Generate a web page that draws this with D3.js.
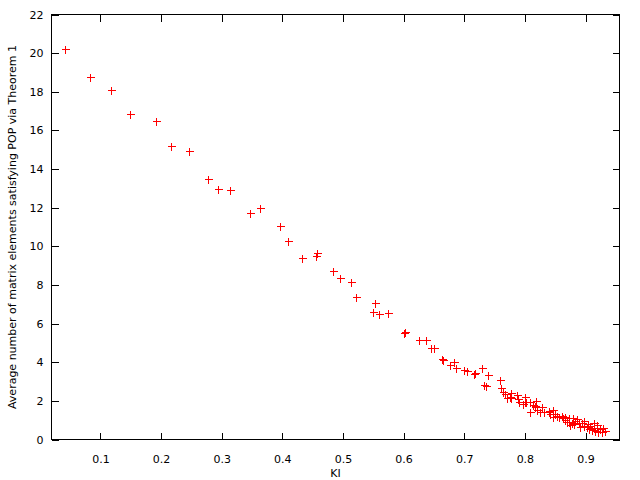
<!DOCTYPE html>
<html>
<head>
<meta charset="utf-8">
<script src="https://cdn.jsdelivr.net/npm/d3@7"></script>
<style>
html,body{margin:0;padding:0;background:#fff;}
svg{display:block;}
text{font-family:"DejaVu Sans",sans-serif;font-size:11px;fill:#000;}
</style>
</head>
<body>
<svg id="chart" width="640" height="480"></svg>
<script>
// Data (KI vs average number of matrix elements)
const kiValues = [
  0.042,0.082,0.118,0.148,0.191,0.2155,0.2452,0.2765,0.293,0.3144,
  0.3474,0.3639,0.3953,0.4101,0.4316,0.457,0.4558,0.4843,0.4949,0.5124,
  0.5218,0.5536,0.5487,0.5586,0.574,0.6021,0.601,0.6257,0.6361,0.6455,
  0.6493,0.6631,0.6653,0.6757,0.6839,0.6856,0.6999,0.7044,0.7153,0.7176,
  0.7285,0.7384,0.7318,0.7357,0.7582,0.7609,0.7647,0.768,0.7703,0.7774,
  0.7774,0.7868,0.7885,0.7911,0.7994,0.7994,0.8088,0.8182,0.7967,0.8132,
  0.817,0.8088,0.8281,0.8253,0.8319,0.839,0.8418,0.8472,0.85,0.8528,
  0.8462,0.8665,0.872,0.8802,0.7759,0.8022,0.8159,0.8198,0.8406,0.8571,
  0.8693,0.861,0.8665,0.872,0.8776,0.883,0.8885,0.8941,0.8967,0.9023,
  0.9078,0.9132,0.9188,0.9243,0.9271,0.9325,0.875,0.8815,0.8915,0.9045,
  0.911,0.919,0.9295,0.9205,0.898,0.9145,0.863,0.886,0.9065,0.9157
];
const avgValues = [
  20.19,18.79,18.07,16.85,16.51,15.17,14.91,13.46,12.99,12.94,
  11.70,11.96,11.03,10.30,9.42,9.63,9.50,8.70,8.37,8.13,
  7.37,7.09,6.59,6.49,6.55,5.57,5.50,5.14,5.14,4.73,
  4.73,4.19,4.13,3.88,4.00,3.71,3.62,3.57,3.38,3.45,
  3.69,3.33,2.80,2.76,3.07,2.67,2.45,2.38,2.15,2.41,
  2.15,2.28,2.12,1.95,2.21,1.95,1.92,1.98,1.86,1.78,
  1.69,1.43,1.69,1.40,1.43,1.43,1.31,1.52,1.31,1.22,
  1.17,1.14,1.09,1.09,2.21,1.95,1.74,1.55,1.48,1.17,
  0.88,1.21,1.00,0.91,0.83,0.96,0.83,0.86,0.69,0.65,
  0.69,0.62,0.57,0.52,0.39,0.45,0.74,0.79,0.64,0.79,
  0.48,0.74,0.58,0.38,0.95,0.84,1.09,1.05,0.54,0.43
];
const xTicks = [0.1,0.2,0.3,0.4,0.5,0.6,0.7,0.8,0.9];
const yTicks = [0,2,4,6,8,10,12,14,16,18,20,22];
const xDomain = [0.01918, 0.95608];
const yDomain = [0, 22];
const xLabel = "KI";
const yLabel = "Average number of matrix elements satisfying POP via Theorem 1";

const points = kiValues.map((k,i)=>({x:k,y:avgValues[i]}));

const svg = d3.select("#chart");
const L = 51.5, R = 619.5, T = 14.5, B = 439.5;
const x = d3.scaleLinear().domain(xDomain).range([L, R]);
const y = d3.scaleLinear().domain(yDomain).range([B, T]);

const tick = 7;
const fmtX = d3.format(".1f");

// bottom axis (inward ticks with labels)
const gB = svg.append("g").attr("transform",`translate(0,${B})`)
  .call(d3.axisBottom(x).tickValues(xTicks).tickFormat(fmtX).tickSizeInner(-tick).tickSizeOuter(0).tickPadding(16));
// top axis mirror
const gT = svg.append("g").attr("transform",`translate(0,${T})`)
  .call(d3.axisTop(x).tickValues(xTicks).tickFormat("").tickSizeInner(-tick).tickSizeOuter(0));
// left axis
const gL = svg.append("g").attr("transform",`translate(${L},0)`)
  .call(d3.axisLeft(y).tickValues(yTicks).tickFormat(d3.format("d")).tickSizeInner(-tick).tickSizeOuter(0).tickPadding(8));
// right mirror
const gR = svg.append("g").attr("transform",`translate(${R},0)`)
  .call(d3.axisRight(y).tickValues(yTicks).tickFormat("").tickSizeInner(-tick).tickSizeOuter(0));

[gB,gT,gL,gR].forEach(g=>{
  g.select(".domain").remove();
  g.selectAll("line").attr("stroke","#000").attr("shape-rendering","crispEdges");
  g.selectAll("text").attr("font-family","DejaVu Sans, sans-serif").attr("font-size",11).attr("fill","#000");
});

// frame
svg.append("rect").attr("x",L).attr("y",T).attr("width",R-L).attr("height",B-T)
  .attr("fill","none").attr("stroke","#000").attr("stroke-width",1).attr("shape-rendering","crispEdges");

// points as plus markers
svg.append("g").selectAll("path").data(points).join("path")
  .attr("transform",d=>`translate(${Math.round(x(d.x))+0.5},${Math.round(y(d.y))+0.5})`)
  .attr("d","M-4,0H4M0,-4V4")
  .attr("stroke","#ff0000").attr("stroke-width",1).attr("fill","none")
  .attr("shape-rendering","crispEdges");

// axis labels
svg.append("text").attr("x",(L+R)/2).attr("y",477).attr("text-anchor","middle").text(xLabel);
svg.append("text").attr("transform",`translate(16,${(T+B)/2}) rotate(-90)`)
  .attr("text-anchor","middle").text(yLabel);
</script>
</body>
</html>
